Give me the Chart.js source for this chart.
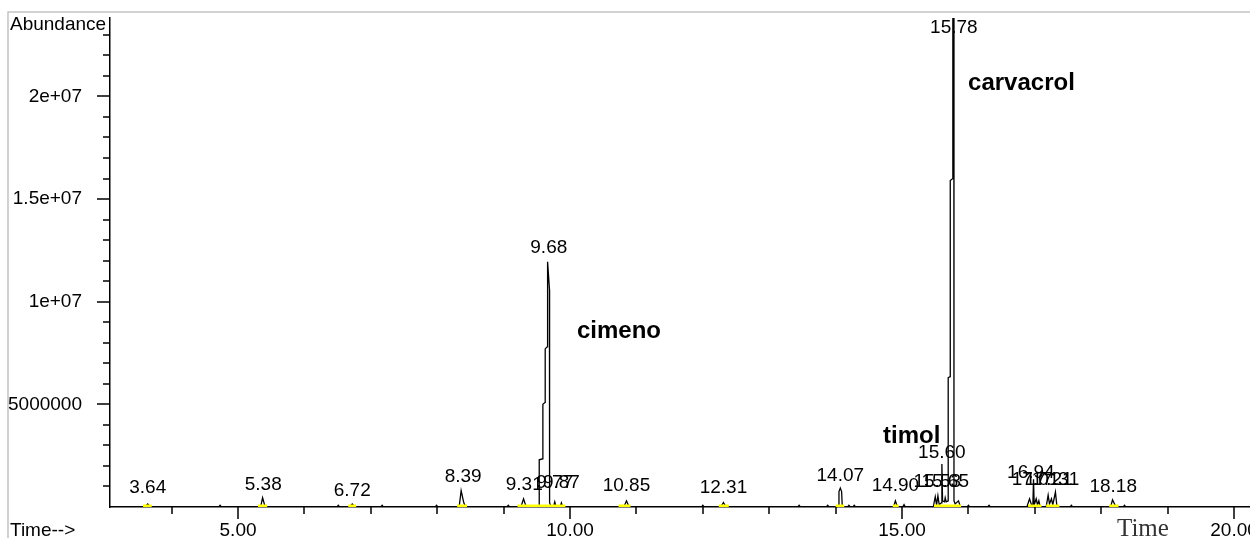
<!DOCTYPE html>
<html>
<head>
<meta charset="utf-8">
<script src="https://cdn.jsdelivr.net/npm/chart.js@4.4.0/dist/chart.umd.min.js"></script>
<style>
html, body { margin: 0; padding: 0; background: #fff; }
#wrap { width: 1250px; height: 538px; }
</style>
</head>
<body>
<div id="wrap"><canvas id="chart" width="1250" height="538"></canvas></div>
<script>
// chromatogram trace (time in min, abundance)
var trace_time = [
    3.05, 3.60, 3.64, 3.68, 4.71, 4.73, 4.75, 5.34, 5.37, 5.40, 5.43,
    6.49, 6.51, 6.53, 6.68, 6.72, 6.76, 7.15, 7.17, 7.19, 7.97, 7.99, 8.01,
    8.33, 8.36, 8.40, 8.43, 9.05, 9.07, 9.09, 9.26, 9.30, 9.34,
    9.52, 9.535, 9.536, 9.59, 9.591, 9.625, 9.626, 9.655, 9.656, 9.668, 9.690, 9.692, 9.72,
    9.75, 9.77, 9.79, 9.85, 9.87, 9.89, 10.81, 10.85, 10.89,
    11.98, 12.00, 12.02, 12.27, 12.31, 12.35, 13.43, 13.45, 13.47, 13.86, 13.88, 13.90,
    14.04, 14.05, 14.07, 14.09, 14.10, 14.18, 14.20, 14.22, 14.26, 14.28, 14.30,
    14.87, 14.90, 14.93, 15.01, 15.03, 15.05,
    15.47, 15.50, 15.52, 15.54, 15.56, 15.59, 15.60, 15.61, 15.64, 15.65, 15.665,
    15.694, 15.695, 15.725, 15.726, 15.764, 15.765, 15.780, 15.782, 15.80, 15.85, 15.88,
    15.98, 16.00, 16.02, 16.29, 16.31, 16.33,
    16.88, 16.92, 16.95, 16.97, 16.98, 16.99, 17.02, 17.04, 17.06, 17.08,
    17.17, 17.20, 17.22, 17.25, 17.27, 17.31, 17.33, 17.35,
    17.53, 17.55, 17.57, 18.14, 18.17, 18.20, 18.22, 18.33, 18.35, 18.37, 20.30
];
var trace_abund = [
    0, 0, 150000, 0, 0, 80000, 0, 0, 450000, 100000, 0,
    0, 80000, 0, 0, 150000, 0, 0, 80000, 0, 0, 80000, 0,
    0, 800000, 200000, 0, 0, 80000, 0, 0, 400000, 0,
    0, 50000, 2300000, 2350000, 5000000, 5100000, 7700000, 7800000, 10500000, 11950000, 10600000, 200000, 0,
    0, 250000, 0, 0, 200000, 0, 0, 300000, 0,
    0, 80000, 0, 0, 220000, 0, 0, 80000, 0, 0, 80000, 0,
    0, 750000, 920000, 750000, 0, 0, 80000, 0, 0, 80000, 0,
    0, 300000, 0, 0, 120000, 0,
    0, 500000, 100000, 550000, 100000, 200000, 2100000, 300000, 250000, 450000, 250000,
    300000, 6300000, 6350000, 15900000, 16000000, 25000000, 25000000, 300000, 150000, 300000, 0,
    0, 80000, 0, 0, 80000, 0,
    0, 400000, 100000, 100000, 1350000, 100000, 400000, 100000, 300000, 0,
    0, 580000, 150000, 400000, 100000, 730000, 100000, 0,
    0, 80000, 0, 0, 350000, 150000, 0, 0, 80000, 0, 0
];

// yellow integration marks on the baseline
var integ_start = [3.57, 5.30, 6.66, 8.30, 9.21, 10.73, 12.24, 14.00, 14.86, 15.48, 16.90, 17.17, 18.12];
var integ_end   = [3.70, 5.44, 6.78, 8.45, 9.93, 10.91, 12.39, 14.13, 14.95, 15.89, 17.10, 17.37, 18.26];

// retention time labels
var peak_label_time = [3.64, 5.38, 6.72, 8.39, 9.31, 9.77, 9.87, 9.68, 10.85, 12.31, 14.07, 14.90,
                       15.53, 15.65, 15.60, 15.78, 16.94, 17.01, 17.21, 17.31, 18.18];
var peak_label_text = ['3.64', '5.38', '6.72', '8.39', '9.31', '9.77', '9.87', '9.68', '10.85', '12.31', '14.07', '14.90',
                       '15.53', '15.65', '15.60', '15.78', '16.94', '17.01', '17.21', '17.31', '18.18'];
var peak_label_height = [240000, 390000, 100000, 780000, 390000, 490000, 490000, 11930000, 340000, 240000, 830000, 340000,
                         540000, 540000, 1950000, 25000000, 970000, 630000, 630000, 630000, 290000];

// compound names
var compound_name = ['cimeno', 'carvacrol', 'timol'];
var compound_time = [10.105, 15.994, 14.714];
var compound_abund = [8230000, 20310000, 3120000];

var x_tick_values = [5, 10, 15, 20];
var x_tick_labels = ['5.00', '10.00', '15.00', '20.00'];
var y_tick_values = [5000000, 10000000, 15000000, 20000000];
var y_tick_labels = ['5000000', '1e+07', '1.5e+07', '2e+07'];

var trace_points = trace_time.map(function (t, i) { return {x: t, y: trace_abund[i]}; });
var integ_points = [];
integ_start.forEach(function (s, i) {
    integ_points.push({x: s, y: 50000});
    integ_points.push({x: integ_end[i], y: 50000});
    integ_points.push({x: integ_end[i] + 0.001, y: null});
});

var label_font = '19px "Liberation Sans", Arial, sans-serif';

var extras_plugin = {
    id: 'extras',
    beforeDatasetsDraw: function (chart) {
        var ctx = chart.ctx, xs = chart.scales.x, ys = chart.scales.y, area = chart.chartArea;
        ctx.save();
        ctx.fillStyle = '#000';
        ctx.font = label_font;
        ctx.textAlign = 'center';
        ctx.textBaseline = 'middle';
        peak_label_time.forEach(function (t, i) {
            var px = xs.getPixelForValue(t);
            var py = Math.max(ys.getPixelForValue(peak_label_height[i]) - 14, area.top + 10);
            ctx.fillText(peak_label_text[i], px, py);
        });
        ctx.font = 'bold 24px "Liberation Sans", Arial, sans-serif';
        ctx.textAlign = 'left';
        ctx.textBaseline = 'alphabetic';
        compound_name.forEach(function (n, i) {
            ctx.fillText(n, xs.getPixelForValue(compound_time[i]), ys.getPixelForValue(compound_abund[i]));
        });
        ctx.restore();
    },
    afterDraw: function (chart) {
        var ctx = chart.ctx, xs = chart.scales.x, ys = chart.scales.y, area = chart.chartArea;
        ctx.save();
        // outer grey frame
        ctx.strokeStyle = '#c4c4c4';
        ctx.lineWidth = 1.5;
        ctx.beginPath();
        ctx.moveTo(8, 538); ctx.lineTo(8, 12); ctx.lineTo(1250, 12);
        ctx.stroke();
        // major and minor tick marks
        ctx.strokeStyle = '#000';
        ctx.lineWidth = 1.5;
        ctx.beginPath();
        for (var v = 1; v * 1e6 <= ys.max; v++) {
            var py = Math.round(ys.getPixelForValue(v * 1e6));
            var len = (v % 5 === 0) ? 13 : 7;
            ctx.moveTo(area.left - len, py);
            ctx.lineTo(area.left, py);
        }
        for (var t = 4; t <= xs.max; t++) {
            var px = Math.round(xs.getPixelForValue(t));
            var len2 = (t % 5 === 0) ? 12 : 7;
            ctx.moveTo(px, area.bottom);
            ctx.lineTo(px, area.bottom + len2);
        }
        ctx.stroke();
        // axis titles
        ctx.fillStyle = '#000';
        ctx.font = label_font;
        ctx.textAlign = 'left';
        ctx.textBaseline = 'middle';
        ctx.fillText('Abundance', 10, 25);
        ctx.fillText('Time-->', 10, 531);
        ctx.fillStyle = '#333';
        ctx.font = '25px "Liberation Serif", "Times New Roman", serif';
        ctx.textBaseline = 'alphabetic';
        ctx.fillText('Time', 1117, 536);
        ctx.restore();
    }
};

Chart.defaults.font.family = '"Liberation Sans", Arial, sans-serif';
Chart.defaults.font.size = 19;
Chart.defaults.color = '#000';

new Chart(document.getElementById('chart'), {
    type: 'line',
    data: {
        datasets: [
            {
                data: integ_points,
                borderColor: '#ffff00',
                borderWidth: 3,
                pointRadius: 0,
                spanGaps: false,
                tension: 0
            },
            {
                data: trace_points,
                borderColor: '#000',
                borderWidth: 1.3,
                pointRadius: 0,
                tension: 0
            }
        ]
    },
    options: {
        responsive: false,
        animation: false,
        devicePixelRatio: 1,
        layout: {padding: {top: 18, left: 0, right: 0, bottom: 0}},
        plugins: {
            legend: {display: false},
            tooltip: {enabled: false}
        },
        scales: {
            x: {
                type: 'linear',
                min: 3.072,
                max: 20.24,
                grid: {display: false, drawTicks: false},
                border: {display: true, color: '#000', width: 1.5},
                ticks: {
                    padding: 12,
                    maxRotation: 0,
                    callback: function (value) {
                        var k = x_tick_values.indexOf(value);
                        return k >= 0 ? x_tick_labels[k] : '';
                    }
                },
                afterBuildTicks: function (scale) {
                    scale.ticks = x_tick_values.map(function (v) { return {value: v}; });
                },
                afterFit: function (scale) {
                    scale.height = 31;
                    scale.paddingLeft = 0;
                    scale.paddingRight = 0;
                }
            },
            y: {
                type: 'linear',
                min: 0,
                max: 23820000,
                grid: {display: false, drawTicks: false},
                border: {display: true, color: '#000', width: 1.5},
                ticks: {
                    padding: 28,
                    callback: function (value) {
                        var k = y_tick_values.indexOf(value);
                        return k >= 0 ? y_tick_labels[k] : '';
                    }
                },
                afterBuildTicks: function (scale) {
                    scale.ticks = y_tick_values.map(function (v) { return {value: v}; });
                },
                afterFit: function (scale) {
                    scale.width = 110;
                    scale.paddingTop = 0;
                    scale.paddingBottom = 0;
                }
            }
        }
    },
    plugins: [extras_plugin]
});
</script>
</body>
</html>
